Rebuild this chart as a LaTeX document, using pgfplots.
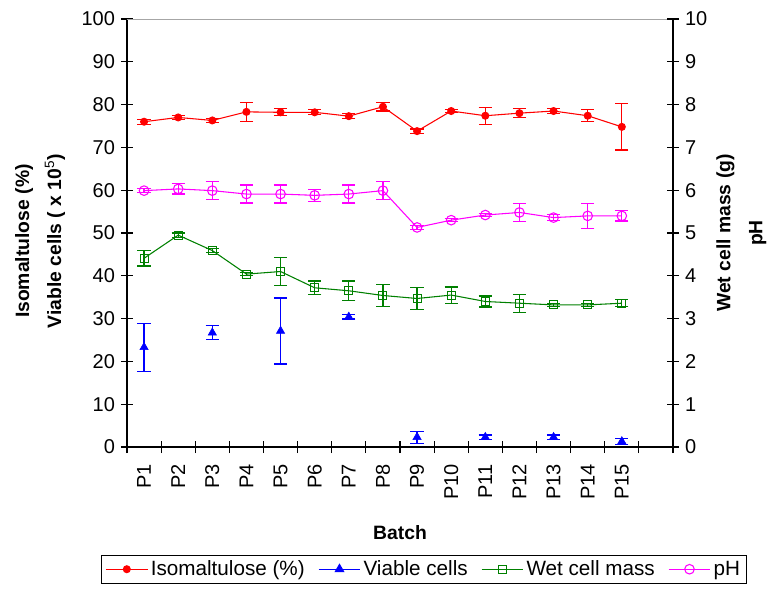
\documentclass[border=0pt]{standalone}
\usepackage{fontspec}
\setmainfont{Liberation Sans}
\usepackage{pgfplots}
\pgfplotsset{compat=1.18}
\usepackage{pgfplotstable}

\pgfplotstableread{
x y e
1 76.0 0.6
2 77.0 0.5
3 76.3 0.5
4 78.3 2.2
5 78.2 0.8
6 78.2 0.6
7 77.3 0.6
8 79.5 1.0
9 73.8 0.5
10 78.5 0.4
11 77.4 2.0
12 78.0 1.0
13 78.5 0.5
14 77.4 1.4
15 74.8 5.4
}\iso

\pgfplotstableread{
x y e
1 23.3 5.6
3 26.7 1.6
5 27.1 7.7
7 30.4 0.5
9 2.3 1.4
11 2.3 0.5
13 2.3 0.5
15 1.3 0.7
}\viable

\pgfplotstableread{
x y e
1 4.41 0.18
2 4.95 0.05
3 4.59 0.05
4 4.04 0.03
5 4.10 0.32
6 3.72 0.16
7 3.65 0.23
8 3.54 0.26
9 3.47 0.26
10 3.55 0.19
11 3.40 0.13
12 3.36 0.21
13 3.32 0.03
14 3.32 0.03
15 3.36 0.08
}\wet

\pgfplotstableread{
x y e
1 5.99 0.05
2 6.03 0.12
3 5.99 0.21
4 5.91 0.21
5 5.91 0.21
6 5.88 0.14
7 5.91 0.21
8 5.99 0.21
9 5.13 0.05
10 5.30 0.03
11 5.42 0.03
12 5.48 0.21
13 5.36 0.07
14 5.40 0.29
15 5.40 0.12
}\ph

\definecolor{wetgreen}{RGB}{0,128,0}
\definecolor{phmag}{RGB}{255,0,255}
\definecolor{vblue}{RGB}{0,0,255}
\definecolor{isored}{RGB}{255,0,0}

\pgfplotsset{
  base/.style={
    scale only axis, width=409.5pt, height=321pt,
    xmin=0.5, xmax=16.5, ymin=0,
    /pgf/number format/assume math mode=true,
    tick label style={font=\fontsize{15}{17}\selectfont},
    label style={font=\fontsize{14.5}{17}\selectfont\bfseries},
    axis line style={black, line width=0.8pt},
    every tick/.style={black, line width=0.8pt},
    tick align=center,
    major tick length=9pt, minor tick length=9pt,
  },
  errs/.style={error bars/.cd, y dir=both, y explicit,
    error bar style={draw=#1, color=#1, line width=0.9pt},
    error mark options={rotate=90, mark size=5pt, draw=#1, color=#1, line width=0.9pt}},
}

\begin{document}
\begin{tikzpicture}
\begin{axis}[base, name=main,
  ymax=100, ytick={0,10,...,100},
  axis x line*=bottom, axis y line*=left,
  tick align=center,
  xtick={1,...,15},
  xticklabels={P1,P2,P3,P4,P5,P6,P7,P8,P9,P10,P11,P12,P13,P14,P15},
  major x tick style={draw=none},
  minor xtick={0.5,1.5,...,16.5},
  xticklabel style={rotate=90, anchor=east, xshift=-5pt},
  yticklabel style={xshift=-1pt},
  xlabel={Batch},
  xlabel style={at={(axis description cs:0.5,-0.199)}, anchor=center},
  ylabel={Isomaltulose (\%)\\[7pt] Viable cells ( x 10\textsuperscript{\mdseries 5})},
  ylabel style={align=center, at={(axis description cs:-0.159,0.481)}, anchor=center},
]
\draw[gray!70, line width=0.8pt] (rel axis cs:0,1) -- (rel axis cs:1,1);
\addplot[isored, line width=0.8pt, mark=*, mark size=2.6pt, errs=isored]
  table[x=x, y=y, y error=e] {\iso};
\addplot[vblue, only marks, mark=triangle*, mark size=3.6pt, errs=vblue]
  table[x=x, y=y, y error=e] {\viable};
\end{axis}

\begin{axis}[base,
  ymax=10, ytick={0,1,...,10},
  axis y line*=right, axis x line=none,
  tick align=center,
  yticklabel style={xshift=1pt},
  ylabel={Wet cell mass (g)\\[7pt] pH},
  ylabel style={align=center, at={(axis description cs:1.125,0.5)}, anchor=center},
  legend columns=4,
  legend style={at={(axis description cs:0.544,-0.252)}, anchor=north,
    draw=black, line width=0.8pt, font=\fontsize{15.5}{18}\selectfont,
    inner ysep=2pt, inner xsep=3pt,
    /tikz/every even column/.append style={column sep=8pt}},
  legend image code/.code={\draw[mark repeat=2, mark phase=2, line width=0.8pt]
    plot coordinates {(0cm,0cm) (0.55cm,0cm) (1.1cm,0cm)};},
]
\addlegendimage{isored, mark=*, mark size=2.6pt}
\addlegendentry{Isomaltulose (\%)}
\addlegendimage{vblue, mark=triangle*, mark size=3.6pt}
\addlegendentry{Viable cells}
\addplot[wetgreen, line width=0.8pt, mark=square, mark size=3pt, errs=wetgreen]
  table[x=x, y=y, y error=e] {\wet};
\addlegendentry{Wet cell mass}
\addplot[phmag, line width=0.8pt, mark=o, mark size=3.6pt, errs=phmag]
  table[x=x, y=y, y error=e] {\ph};
\addlegendentry{pH}
\end{axis}
\pgfresetboundingbox
\path ([xshift=-95.25pt,yshift=-107.25pt]main.south west) rectangle ([xshift=72pt,yshift=14.25pt]main.north east);
\end{tikzpicture}
\end{document}
